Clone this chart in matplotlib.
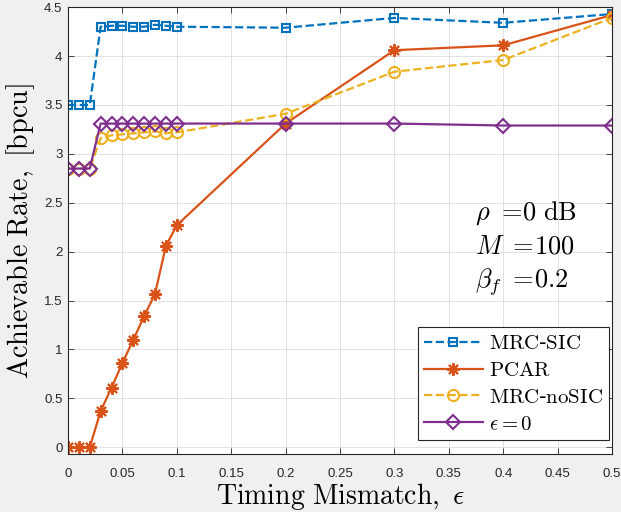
import numpy as np
import matplotlib
matplotlib.use("Agg")
import matplotlib.pyplot as plt

plt.rcParams['mathtext.fontset'] = 'cm'

# timing mismatch values
eps = [0, 0.01, 0.02, 0.03, 0.04, 0.05, 0.06, 0.07, 0.08, 0.09, 0.1, 0.2, 0.3, 0.4, 0.5]

# achievable rates
mrc_sic = [3.50, 3.50, 3.50, 4.30, 4.31, 4.31, 4.30, 4.30, 4.32, 4.31, 4.30, 4.29, 4.39, 4.34, 4.43]
pcar = [0.0, 0.0, 0.0, 0.37, 0.61, 0.86, 1.10, 1.34, 1.57, 2.06, 2.27, 3.31, 4.06, 4.11, 4.42]
mrc_nosic = [2.85, 2.85, 2.85, 3.16, 3.19, 3.20, 3.21, 3.22, 3.23, 3.21, 3.22, 3.41, 3.84, 3.96, 4.39]
eps_zero = [2.85, 2.85, 2.85, 3.31, 3.31, 3.31, 3.31, 3.31, 3.31, 3.31, 3.31, 3.31, 3.31, 3.29, 3.29]

xticks = np.arange(0, 0.51, 0.05)
yticks = np.arange(0, 4.51, 0.5)
xticklabels = ['0', '0.05', '0.1', '0.15', '0.2', '0.25', '0.3', '0.35', '0.4', '0.45', '0.5']
yticklabels = ['0', '0.5', '1', '1.5', '2', '2.5', '3', '3.5', '4', '4.5']

fig = plt.figure(figsize=(6.21, 5.12), dpi=100, facecolor='#f0f0f0')
ax = fig.add_axes([0.1095, 0.113, 0.876, 0.873])

ax.plot(eps, mrc_sic, '--', color='#0072BD', lw=1.6, marker='s', ms=6,
        mfc='none', mew=1.5, label=r'$\mathrm{MRC}$-$\mathrm{SIC}$')
ax.plot(eps, pcar, '-', color='#D95319', lw=1.6, marker=(8, 2, 0), ms=9,
        mew=1.5, label=r'$\mathrm{PCAR}$')
ax.plot(eps, mrc_nosic, '--', color='#EDB120', lw=1.6, marker='o', ms=8,
        mfc='none', mew=1.5, label=r'$\mathrm{MRC}$-$\mathrm{noSIC}$')
ax.plot(eps, eps_zero, '-', color='#7E2F8E', lw=1.6, marker='D', ms=7.5,
        mfc='none', mew=1.5, label=r'$\epsilon=0$')

ax.set_xlim(0, 0.5)
ax.set_ylim(-0.07, 4.5)
ax.set_xticks(xticks)
ax.set_xticklabels(xticklabels, fontfamily='Liberation Sans')
ax.set_yticks(yticks)
ax.set_yticklabels(yticklabels, fontfamily='Liberation Sans')
ax.tick_params(direction='in', top=True, right=True, labelsize=9.5, colors='#262626',
               length=4, width=0.6)
ax.tick_params(axis='x', pad=10)
ax.tick_params(axis='y', pad=4)
ax.grid(True, color='#dcdcdc', lw=0.6)
for s in ax.spines.values():
    s.set_color('#262626')
    s.set_linewidth(0.8)

ax.set_xlabel(r'$\mathrm{Timing\ Mismatch,}\ \epsilon$', fontsize=20, labelpad=1)
ax.set_ylabel(r'$\mathrm{Achievable\ Rate,\ [bpcu]}$', fontsize=20.3, labelpad=5)

ax.text(0.374, 2.33, r'$\rho\ \mathrm{=}\!\mathrm{0\ dB}$', fontsize=19)
ax.text(0.374, 1.98, r'$M\ \mathrm{=}\!\mathrm{100}$', fontsize=19)
ax.text(0.374, 1.63, r'$\beta_f\ \mathrm{=}\!\mathrm{0.2}$', fontsize=19)

leg = ax.legend(loc='lower right', fontsize=15, handlelength=2.8, borderpad=0.3,
                labelspacing=0.33, handletextpad=0.3, fancybox=False, borderaxespad=0,
                framealpha=1, edgecolor='#262626', bbox_to_anchor=(0.9945, 0.032))
leg.get_frame().set_linewidth(0.8)

fig.savefig("out.png", dpi=100, facecolor=fig.get_facecolor())
